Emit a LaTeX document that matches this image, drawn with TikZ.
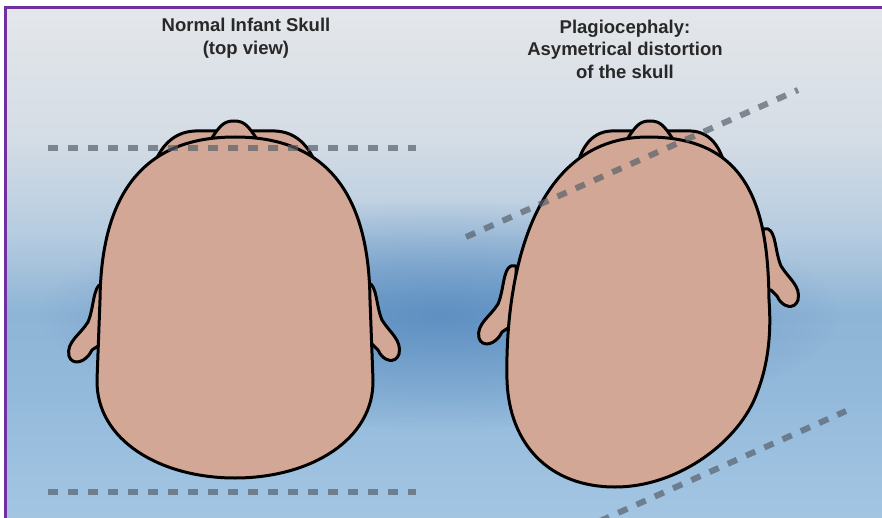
\documentclass[tikz,border=0pt]{standalone}
\usepackage{fontspec}
\setmainfont{Liberation Sans}
\usetikzlibrary{fadings}

\definecolor{skin}{RGB}{211,167,150}
\definecolor{frameline}{RGB}{112,48,160}
\definecolor{guidegray}{RGB}{85,95,105}
\definecolor{labeltext}{RGB}{40,40,40}
\definecolor{skyA}{RGB}{163,197,226}
\definecolor{skyB}{RGB}{156,192,223}
\definecolor{skyC}{RGB}{146,184,218}
\definecolor{skyD}{RGB}{142,180,214}
\definecolor{skyE}{RGB}{182,204,224}
\definecolor{skyF}{RGB}{212,220,229}
\definecolor{skyG}{RGB}{228,231,234}
\definecolor{skyglow}{RGB}{92,142,193}

% backdrop, bottom to top
\pgfdeclareverticalshading{backdrop}{100bp}{color(0bp)=(skyA); color(25bp)=(skyA);
  color(31bp)=(skyB); color(38bp)=(skyC); color(45bp)=(skyD); color(53bp)=(skyE);
  color(62bp)=(skyF); color(75bp)=(skyG); color(100bp)=(skyG)}
\tikzfading[name=glowfade, inner color=transparent!5, outer color=transparent!100]

\begin{document}
\begin{tikzpicture}[x=1pt, y=-1pt,
    skull/.style={fill=skin, draw=black, line width=3pt, line join=round},
    guide/.style={draw=guidegray, draw opacity=0.68, line width=6pt,
      dash pattern=on 10pt off 10pt},
    title/.style={align=center, text=labeltext,
      font=\bfseries\fontsize{18.5}{22.5}\selectfont}]

    \useasboundingbox (0,0) rectangle (882,518);
    \fill[white] (0,0) rectangle (882,518);

    % background
    \shade[shading=backdrop] (5,8) rectangle (882,518);
    \fill[skyglow, path fading=glowfade] (441,315) ellipse [x radius=400, y radius=115];
    \draw[frameline, line width=3pt] (5,518) -- (5,8) -- (882,8);

    % normal skull
    \draw[skull] (101,284) .. controls (93,287) and (94,308) .. (88,322)
        .. controls (80,335) and (66,342) .. (69,356)
        .. controls (72,366) and (86,363) .. (92,350) -- (98,346) -- (106,346) -- (106,284) -- cycle;
    \draw[skull] (369,283) .. controls (377,286) and (376,306) .. (382,320)
        .. controls (390,333) and (402,340) .. (399,354)
        .. controls (396,364) and (383,362) .. (378,350) -- (372,344) -- (364,344) -- (364,283) -- cycle;
    \draw[skull] (150,176) .. controls (158,148) and (172,132) .. (195,131) -- (275,131)
        .. controls (298,132) and (312,148) .. (320,176) -- cycle;
    \draw[skull] (210,141) .. controls (220,125) and (224,121) .. (234,121)
        .. controls (244,121) and (248,125) .. (258,141) -- cycle;
    \draw[skull] (235,137) .. controls (135,137) and (101,205) .. (100,300)
        -- (97,380) .. controls (96,440) and (160,478) .. (235,478)
        .. controls (310,478) and (374,440) .. (373,380)
        -- (370,300) .. controls (369,205) and (335,137) .. (235,137) -- cycle;

    \draw[guide] (48,148) -- (416,148);
    \draw[guide] (48,492) -- (416,492);

    \node[title] (normal) at (246,38) {Normal Infant Skull\\(top view)};

    % flattened skull
    \begin{scope}[shift={(410,-18)}]
    \draw[skull] (101,284) .. controls (93,287) and (94,308) .. (88,322)
        .. controls (80,335) and (66,342) .. (69,356)
        .. controls (72,366) and (86,363) .. (92,350) -- (98,346) -- (106,346) -- (106,284) -- cycle;
    \end{scope}
    \begin{scope}[shift={(399,-54)}]
    \draw[skull] (369,283) .. controls (377,286) and (376,306) .. (382,320)
        .. controls (390,333) and (402,340) .. (399,354)
        .. controls (396,364) and (383,362) .. (378,350) -- (372,344) -- (364,344) -- (364,283) -- cycle;
    \end{scope}
    \draw[skull] (574,182) .. controls (578,150) and (590,132) .. (611,131) -- (691,131)
        .. controls (712,132) and (724,150) .. (728,182) -- cycle;
    \draw[skull] (626,141) .. controls (636,125) and (640,121) .. (650,121)
        .. controls (660,121) and (664,125) .. (674,141) -- cycle;
    \draw[skull] (648,137) .. controls (750,137) and (768,210) .. (769,300)
        .. controls (772,340) and (766,370) .. (757,393)
        .. controls (740,440) and (680,487) .. (615,487)
        .. controls (550,487) and (509,445) .. (507,380)
        .. controls (505,300) and (522,137) .. (648,137) -- cycle;

    \draw[guide] (466,237) -- (798,90);
    \draw[guide] (600,521) -- (846,411);

    \node[title] (plagio) at (625,49) {Plagiocephaly:\\Asymetrical distortion\\of the skull};

\end{tikzpicture}
\end{document}
